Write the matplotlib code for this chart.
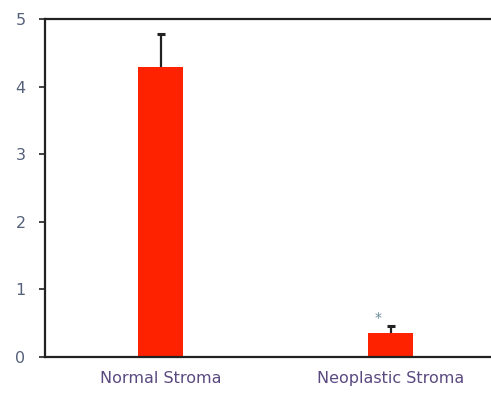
import matplotlib
matplotlib.use('Agg')
import matplotlib.pyplot as plt

# Stroma groups and measured values
groups = ['Normal Stroma', 'Neoplastic Stroma']
means = [4.29, 0.355]
errors = [0.49, 0.10]

fig = plt.figure(figsize=(4.91, 3.96), dpi=100)
ax = fig.add_axes([0.0916, 0.0985, 0.9084, 0.8535])

pos = [0, 1]
ax.bar(pos, means, width=0.196, color='#ff2200', zorder=2)
# error bars sit behind the bars so only the upper half shows
ax.errorbar(pos, means, yerr=errors, fmt='none', ecolor='#222222',
            elinewidth=1.6, capsize=3, capthick=2.2, zorder=1)

# significance marker above the neoplastic bar
ax.text(pos[1] - 0.055, means[1] + errors[1] + 0.02, '*', ha='center', va='bottom',
        fontsize=10, color='#6a8a9a')

ax.set_xlim(-0.504, 1.435)
ax.set_ylim(0, 5)
ax.set_yticks([0, 1, 2, 3, 4, 5])
ax.set_xticks(pos)
ax.set_xticklabels(groups)

for s in ['left', 'bottom', 'top']:
    ax.spines[s].set_linewidth(1.6)
    ax.spines[s].set_color('#222222')
ax.spines['right'].set_visible(False)

ax.tick_params(axis='y', length=4, width=1.2, colors='#222222', labelcolor='#55607a',
               labelsize=11.5, pad=10)
ax.tick_params(axis='x', length=0, labelcolor='#5a4a80', labelsize=11.5, pad=10)

fig.savefig('out.png', dpi=100)
